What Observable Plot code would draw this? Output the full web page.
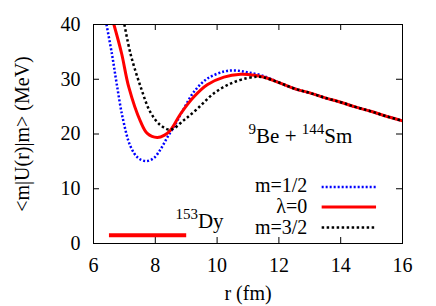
<!DOCTYPE html>
<html>
<head>
<meta charset="utf-8">
<script src="https://cdn.jsdelivr.net/npm/d3@7"></script>
<script src="https://cdn.jsdelivr.net/npm/@observablehq/plot@0.6"></script>
<style>
  html, body { margin: 0; padding: 0; background: #fff; }
</style>
</head>
<body>
<div id="chart"></div>
<script>
// ---- data ----
const xTicks = [6, 8, 10, 12, 14, 16];
const yTicks = [0, 10, 20, 30, 40];

const seriesNames = ["m=1/2", "λ=0", "m=3/2"];

// m=1/2 (blue, dotted)
const rBlue = [6.42, 6.6, 6.75, 6.95, 7.2, 7.45, 7.7, 7.95, 8.17, 8.38, 8.6, 8.92, 9.25, 9.68, 10.22, 10.6, 11.0, 11.5, 12, 12.5, 13, 13.5, 14, 14.5, 15, 15.5, 16];
const vBlue = [40, 34.5, 29.2, 22.8, 17.7, 15.6, 15.05, 15.6, 17.2, 19.3, 21.3, 24.6, 27.7, 30.1, 31.4, 31.6, 31.25, 30.6, 29.4, 28.3, 27.5, 26.6, 25.8, 24.9, 24.1, 23.2, 22.4];

// λ=0 (red, solid)
const rRed = [6.66, 6.91, 7.14, 7.52, 7.74, 8.06, 8.3, 8.49, 8.82, 9.25, 9.68, 10.22, 10.76, 11.2, 11.5, 12, 12.5, 13, 13.5, 14, 14.5, 15, 15.5, 16];
const vRed = [40, 34.7, 28.6, 22.3, 20.1, 19.35, 19.8, 20.7, 23.7, 26.8, 29.0, 30.4, 30.9, 30.75, 30.4, 29.4, 28.3, 27.5, 26.6, 25.8, 24.9, 24.1, 23.2, 22.4];

// m=3/2 (black, dotted)
const rBlack = [7.0, 7.2, 7.52, 7.84, 8.17, 8.5, 8.92, 9.36, 9.89, 10.43, 10.97, 11.3, 11.5, 12, 12.5, 13, 13.5, 14, 14.5, 15, 15.5, 16];
const vBlack = [40, 34.6, 28.7, 24.0, 21.6, 20.8, 22.5, 24.6, 27.4, 29.2, 30.2, 30.45, 30.35, 29.4, 28.3, 27.5, 26.6, 25.8, 24.9, 24.1, 23.2, 22.4];

// 153Dy level bar
const barR = [6.5, 9.0];
const barV = 1.5;

const reactionLabel = "^9Be + ^144Sm";
const nucleusLabel = "^153Dy";
const xLabel = "r (fm)";
const yLabel = "<m|U(r)|m> (MeV)";

// ---- build tables ----
const toRows = (rs, vs) => rs.map((r, i) => ({r, v: vs[i]}));
const blueRows = toRows(rBlue, vBlue);
const redRows = toRows(rRed, vRed);
const blackRows = toRows(rBlack, vBlack);
const barRows = barR.map(r => ({r, v: barV}));

const styles = [
  {stroke: "#0000ff", strokeWidth: 2.5, strokeDasharray: "2,2", strokeLinecap: "butt"},
  {stroke: "#ff0000", strokeWidth: 3, strokeLinecap: "butt"},
  {stroke: "#000000", strokeWidth: 2.5, strokeDasharray: "2.5,2.5", strokeLinecap: "butt"}
];
const legendTextV = [10.6, 6.7, 2.95];
const legendLineV = [10.3, 6.65, 2.9];

const W = 436, H = 306, ML = 93, MR = 34, MT = 24, MB = 63;
const TICK = 6;
const frameW = W - ML - MR, frameH = H - MT - MB;
const FONT = "Tinos, Liberation Serif, Times, serif";

const chart = Plot.plot({
  width: W,
  height: H,
  marginLeft: ML,
  marginRight: MR,
  marginTop: MT,
  marginBottom: MB,
  style: {fontSize: "20px"},
  x: {domain: [6, 16]},
  y: {domain: [0, 40]},
  marks: [
    Plot.axisX({ticks: xTicks, tickSize: 0, tickPadding: 14, label: null, fontFamily: FONT}),
    Plot.axisY({ticks: yTicks, tickSize: 0, tickPadding: 13, label: null, fontFamily: FONT}),
    // inward ticks on all four sides
    Plot.tickX(xTicks, {x: d => d, insetTop: frameH - TICK, stroke: "#000"}),
    Plot.tickX(xTicks, {x: d => d, insetBottom: frameH - TICK, stroke: "#000"}),
    Plot.tickY(yTicks, {y: d => d, insetRight: frameW - TICK, stroke: "#000"}),
    Plot.tickY(yTicks, {y: d => d, insetLeft: frameW - TICK, stroke: "#000"}),
    Plot.line(blueRows, {x: "r", y: "v", ...styles[0], curve: "catmull-rom"}),
    Plot.line(redRows, {x: "r", y: "v", ...styles[1], curve: "catmull-rom"}),
    Plot.line(blackRows, {x: "r", y: "v", ...styles[2], curve: "catmull-rom"}),
    Plot.line(barRows, {x: "r", y: "v", stroke: "#ff0000", strokeWidth: 4, strokeLinecap: "butt"}),
    // legend
    ...seriesNames.map((name, i) => Plot.text([name], {x: 12.92, y: legendTextV[i], textAnchor: "end", lineAnchor: "middle", fontFamily: FONT})),
    ...seriesNames.map((name, i) => Plot.ruleY([legendLineV[i]], {x1: 13.4, x2: 15.16, ...styles[i]})),
    // annotations
    Plot.text([reactionLabel], {x: 11.02, y: 19.62, textAnchor: "start", lineAnchor: "middle", fontSize: 21, fontFamily: FONT}),
    Plot.text([nucleusLabel], {x: 8.65, y: 4.15, textAnchor: "start", lineAnchor: "middle", fontSize: 21, fontFamily: FONT}),
    // axis labels
    Plot.text([xLabel], {frameAnchor: "bottom", dy: 50, textAnchor: "middle", lineAnchor: "middle", fontFamily: FONT}),
    Plot.text([yLabel], {frameAnchor: "left", dx: -71, rotate: -90, textAnchor: "middle", lineAnchor: "middle", fontFamily: FONT}),
    Plot.frame({stroke: "#000", strokeWidth: 1})
  ]
});

// superscripts: "^digits"
const ns = "http://www.w3.org/2000/svg";
chart.querySelectorAll("text").forEach(t => {
  if (!t.textContent.includes("^")) return;
  const parts = t.textContent.split(/(\^\d+)/).filter(p => p);
  t.textContent = "";
  let raised = false;
  for (const p of parts) {
    const ts = document.createElementNS(ns, "tspan");
    if (p.startsWith("^")) {
      ts.textContent = p.slice(1);
      ts.setAttribute("font-size", "15px");
      ts.setAttribute("dy", raised ? "0" : "-9");
      raised = true;
    } else {
      ts.textContent = p;
      if (raised) ts.setAttribute("dy", "9");
      raised = false;
    }
    t.appendChild(ts);
  }
});

document.getElementById("chart").appendChild(chart);
</script>
</body>
</html>
